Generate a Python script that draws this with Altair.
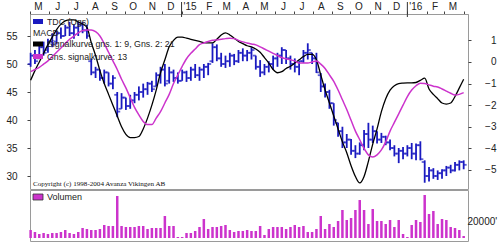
import altair as alt
import pandas as pd

# ---------------- data ----------------
first_week = "2014-05-02"   # weekly bars, one per week

low = [49.5, 50.0, 51.0, 51.5, 52.0, 53.0, 53.5, 54.5, 55.0, 55.0,
       54.5, 55.0, 55.5, 54.5, 48.0, 47.5, 47.0, 46.5, 46.0, 45.5,
       40.5, 42.0, 41.8, 42.0, 43.0, 43.5, 44.0, 44.5, 45.0, 46.0,
       46.5, 46.0, 46.5, 46.8, 46.5, 47.0, 46.8, 47.0, 47.5, 47.0,
       47.5, 48.0, 50.2, 50.5, 49.5, 49.3, 49.5, 49.8, 50.2, 50.5,
       50.5, 50.8, 49.0, 47.7, 48.0, 48.5, 49.0, 49.5, 50.0, 50.0,
       49.0, 48.5, 48.0, 50.2, 50.8, 50.0, 48.4, 45.0, 44.0, 42.0,
       39.0, 37.0, 35.0, 35.0, 33.8, 33.2, 33.8, 34.6, 35.0, 35.9,
       35.8, 35.9, 35.5, 34.6, 33.5, 32.3, 33.0, 33.5, 33.0, 32.8,
       32.8, 28.8, 29.0, 29.5, 29.3, 29.5, 30.0, 30.5, 30.8, 31.0,
       31.2]
high = [52.0, 52.5, 53.5, 54.0, 54.5, 55.5, 56.0, 56.5, 57.0, 57.5,
        57.0, 57.6, 57.5, 57.0, 51.0, 49.5, 49.0, 49.0, 48.5, 48.0,
        45.0, 44.8, 44.0, 44.5, 45.0, 46.0, 46.5, 46.8, 47.0, 48.5,
        49.5, 50.0, 49.5, 49.0, 48.5, 49.0, 48.8, 49.5, 50.0, 49.5,
        50.0, 50.2, 53.7, 53.5, 52.0, 51.5, 52.0, 51.8, 52.5, 52.8,
        52.5, 53.0, 51.5, 50.7, 50.0, 50.5, 51.5, 52.0, 53.0, 52.5,
        51.5, 51.0, 50.5, 52.5, 53.7, 52.0, 52.0, 48.4, 46.5, 45.4,
        43.0, 39.5, 38.8, 37.5, 36.6, 35.5, 36.0, 38.2, 39.5, 39.0,
        38.0, 37.7, 37.2, 36.5, 35.5, 35.0, 35.2, 35.5, 35.9, 35.8,
        36.2, 32.8, 31.6, 31.4, 31.0, 31.2, 31.8, 32.0, 32.5, 32.8,
        32.8]
open_ = [50.0, 51.5, 51.0, 53.0, 52.5, 54.0, 54.0, 55.5, 55.0, 56.5,
         55.5, 56.5, 57.0, 56.0, 50.5, 48.5, 49.0, 47.5, 48.5, 46.5,
         44.5, 42.0, 44.0, 42.5, 43.5, 44.5, 45.0, 45.5, 46.5, 46.0,
         48.0, 49.0, 47.0, 48.5, 47.5, 47.0, 48.5, 47.5, 49.0, 48.0,
         49.0, 49.5, 50.5, 53.0, 51.0, 50.0, 50.5, 51.5, 50.5, 52.0,
         51.5, 52.0, 51.5, 49.5, 48.5, 49.5, 50.0, 51.0, 51.5, 52.5,
         51.0, 50.0, 49.5, 50.5, 52.0, 52.0, 51.0, 48.0, 46.0, 45.0,
         43.0, 39.5, 38.0, 36.0, 36.5, 34.5, 34.0, 35.5, 37.5, 36.5,
         38.0, 36.5, 37.0, 36.0, 35.0, 34.0, 34.5, 34.0, 35.0, 34.0,
         35.5, 32.5, 30.0, 31.0, 30.0, 30.5, 31.0, 31.5, 31.0, 32.0,
         32.5]
close = [51.5, 50.5, 53.0, 52.0, 54.0, 53.5, 55.5, 55.0, 56.5, 55.5,
         56.5, 57.0, 56.0, 55.0, 48.5, 49.0, 47.5, 48.5, 46.5, 47.5,
         41.5, 44.0, 42.5, 43.5, 44.5, 45.0, 45.5, 46.5, 45.5, 48.0,
         49.0, 46.5, 48.5, 47.5, 47.0, 48.5, 47.5, 49.0, 48.0, 49.0,
         49.5, 50.0, 53.0, 51.0, 50.0, 50.5, 51.5, 50.5, 52.0, 51.5,
         52.0, 52.5, 49.5, 48.5, 49.5, 50.0, 51.0, 51.5, 52.5, 51.0,
         50.0, 49.5, 50.5, 52.0, 52.5, 51.0, 48.5, 46.0, 45.0, 43.0,
         40.0, 38.0, 36.0, 36.5, 34.5, 34.0, 35.5, 37.5, 36.5, 38.0,
         36.5, 37.0, 36.0, 35.0, 34.0, 34.5, 34.0, 35.0, 34.0, 35.5,
         33.0, 30.0, 31.0, 30.0, 30.5, 31.0, 31.5, 31.0, 32.0, 32.5,
         32.0]
macd = [-0.85, -0.40, 0.00, 0.40, 0.80, 1.15, 1.50, 1.75, 1.90, 1.95,
        1.95, 1.85, 1.75, 1.60, 0.90, 0.30, -0.40, -1.00, -1.50, -2.00,
        -2.50, -3.00, -3.35, -3.50, -3.50, -3.45, -3.10, -2.60, -2.00, -1.30,
        -0.50, 0.10, 0.70, 1.00, 1.15, 1.15, 1.10, 1.05, 1.00, 0.95,
        0.90, 0.88, 0.88, 1.05, 1.25, 1.35, 1.25, 1.10, 0.95, 0.85,
        0.75, 0.70, 0.60, 0.45, 0.20, -0.05, -0.35, -0.50, -0.45, -0.30,
        -0.20, -0.05, 0.10, 0.25, 0.35, 0.35, 0.10, -0.60, -1.30, -1.90,
        -2.50, -3.10, -3.70, -4.20, -4.80, -5.30, -5.60, -5.30, -4.60, -3.80,
        -3.10, -2.30, -1.70, -1.30, -1.10, -1.00, -0.98, -0.97, -0.97, -0.95,
        -0.85, -0.75, -1.25, -1.50, -1.70, -1.90, -1.95, -1.90, -1.60, -1.20,
        -0.80]
signal = [-0.45, -0.35, -0.25, -0.10, 0.05, 0.25, 0.45, 0.65, 0.85, 1.05,
          1.20, 1.35, 1.45, 1.48, 1.48, 1.40, 1.20, 0.85, 0.45, 0.05,
          -0.35, -0.80, -1.20, -1.65, -2.10, -2.45, -2.75, -2.90, -2.90, -2.60,
          -2.30, -1.90, -1.50, -1.00, -0.60, -0.20, 0.15, 0.40, 0.60, 0.80,
          0.88, 0.95, 1.00, 1.02, 1.05, 1.08, 1.10, 1.08, 1.00, 0.93,
          0.88, 0.83, 0.79, 0.70, 0.60, 0.50, 0.40, 0.30, 0.20, 0.15,
          0.10, 0.05, -0.05, -0.05, -0.05, 0.00, 0.05, -0.10, -0.30, -0.60,
          -0.90, -1.30, -1.75, -2.20, -2.70, -3.20, -3.60, -4.00, -4.30, -4.40,
          -4.30, -4.07, -3.70, -3.20, -2.80, -2.40, -2.00, -1.60, -1.30, -1.10,
          -0.98, -1.00, -1.06, -1.12, -1.16, -1.25, -1.35, -1.45, -1.53, -1.50,
          -1.42]
volume = [13300, 10000, 6700, 8300, 6700, 8300, 8300, 10000, 13300, 8300,
          6700, 10000, 16700, 15000, 13300, 13300, 15000, 21700, 20000, 20000,
          70000, 20000, 18300, 18300, 18300, 20000, 20000, 15000, 16700, 16700,
          16700, 36700, 20000, 20000, 1700, 1700, 8300, 8300, 11700, 18300,
          31700, 15000, 18300, 18300, 20000, 21700, 13300, 10000, 11700, 11700,
          13300, 11700, 11700, 20000, 5000, 15000, 18300, 18300, 18300, 15000,
          18300, 21700, 18300, 20000, 10000, 10000, 15000, 36700, 15000, 23300,
          18300, 28300, 46700, 30000, 33300, 46700, 63300, 46700, 23300, 48300,
          28300, 28300, 23300, 30000, 18300, 30000, 6700, 1700, 21700, 30000,
          26700, 71700, 40000, 45000, 23300, 31700, 30000, 18300, 16700, 13300,
          3300]

year_starts = ["2015-01-01T00:00:00", "2016-01-01T00:00:00"]
legend_labels = ["TDC (Ugs)", "MACD", "Signalkurve gns. 1: 9, Gns. 2: 21", "Gns. signalkurve: 13"]
volume_label = "Volumen"
copyright_text = "Copyright (c) 1998-2004 Avanza Vikingen AB"
price_ticks = [30, 35, 40, 45, 50, 55]
macd_ticks = [-5, -4, -3, -2, -1, 0, 1]
volume_ticks = [20000]

n = len(low)
dates = pd.date_range(first_week, periods=n, freq="7D")
df = pd.DataFrame({
    "date": dates.strftime("%Y-%m-%dT00:00:00"),
    "low": low, "high": high, "open": open_, "close": close,
    "macd": macd, "signal": signal, "volume": volume,
})

# ---------------- styling ----------------
FONT = "Liberation Sans, Arial, sans-serif"
BLUE = "#1a1ac0"
MAGENTA = "#cc33cc"
W = 438
H_MAIN = 175
H_VOL = 51

x_scale = alt.Scale(domain=[alt.DateTime(year=2014, month=5, date=1),
                            alt.DateTime(year=2016, month=4, date=8)])
x_axis = alt.Axis(
    orient="top", title=None, grid=False,
    tickCount={"interval": "month", "step": 1},
    labelExpr=("month(datum.value) == 0 ? \"'\" + timeFormat(datum.value, '%y') : "
               "((year(datum.value) == 2016 && month(datum.value) == 3) ? '' : "
               "substring(timeFormat(datum.value, '%b'), 0, 1))"),
    labelOffset=8, labelAlign="center", labelOverlap=False, labelFlush=False,
    labelPadding=0, tickSize=3, tickColor="#444", domainColor="#9a9a9a",
    labelFont=FONT, labelFontSize=10, labelColor="#222",
)
X = alt.X("date:T", scale=x_scale, axis=x_axis)

price_scale = alt.Scale(domain=[27.68, 58.93], nice=False, zero=False)
price_axis = alt.Axis(orient="left", values=price_ticks, title=None, grid=False,
                      domain=False, tickSize=3, tickColor="#444", labelPadding=10,
                      labelFont=FONT, labelFontSize=10, labelColor="#222")
macd_scale = alt.Scale(domain=[-5.88, 2.22], nice=False, zero=False)
macd_axis = alt.Axis(orient="right", values=macd_ticks, title=None, grid=False,
                     domain=False, tickSize=3, tickColor="#444", labelAlign="right",
                     labelPadding=25, labelFont=FONT, labelFontSize=10, labelColor="#222")

base = alt.Chart(df)
price_hl = base.mark_rule(color=BLUE, strokeWidth=1.8).encode(
    x=X, y=alt.Y("low:Q", scale=price_scale, axis=price_axis), y2="high:Q")
price_open = base.mark_tick(color=BLUE, orient="horizontal", size=3, thickness=1.8,
                            xOffset=-1.5).encode(
    x=X, y=alt.Y("open:Q", scale=price_scale, axis=price_axis))
price_close = base.mark_tick(color=BLUE, orient="horizontal", size=3, thickness=1.8,
                             xOffset=1.5).encode(
    x=X, y=alt.Y("close:Q", scale=price_scale, axis=price_axis))
price_layer = alt.layer(price_hl, price_open, price_close)

macd_line = base.mark_line(color="black", strokeWidth=1.3, interpolate="monotone").encode(
    x=X, y=alt.Y("macd:Q", scale=macd_scale, axis=macd_axis))
signal_line = base.mark_line(color=MAGENTA, strokeWidth=1.5, interpolate="monotone").encode(
    x=X, y=alt.Y("signal:Q", scale=macd_scale, axis=macd_axis))
macd_layer = alt.layer(macd_line, signal_line)

year_rule = alt.Chart(pd.DataFrame({"date": year_starts})).mark_rule(
    color="#333", strokeWidth=1).encode(x=X, y=alt.value(-12), y2=alt.value(3))


def label(text, x, y, size=8.8, font=FONT, color="#222"):
    return alt.Chart(pd.DataFrame({"t": [text]})).mark_text(
        align="left", baseline="middle", font=font, fontSize=size, color=color
    ).encode(x=alt.value(x), y=alt.value(y), text="t:N")


def swatch(color, x, y, w=10, h=5, stroke=None):
    kw = dict(color=color)
    if stroke:
        kw.update(stroke=stroke, strokeWidth=0.8)
    return alt.Chart(pd.DataFrame({"c": [0]})).mark_rect(**kw).encode(
        x=alt.value(x), x2=alt.value(x + w), y=alt.value(y), y2=alt.value(y + h))


legend_layers = [
    swatch(BLUE, 3, 5),
    label(legend_labels[0], 17, 8),
    label(legend_labels[1], 3, 18.5),
    swatch("black", 3, 27.5),
    label(legend_labels[2], 17, 30),
    swatch(MAGENTA, 3, 40),
    label(legend_labels[3], 17, 42.5),
    label(copyright_text, 3, 170, size=7.1, font="Liberation Serif, serif", color="#111"),
]

main = alt.layer(price_layer, macd_layer, year_rule, *legend_layers).resolve_scale(
    y="independent").properties(width=W, height=H_MAIN)

vol_axis = alt.Axis(orient="right", values=volume_ticks, title=None, grid=False,
                    domain=False, ticks=False, labelPadding=-1, labelOffset=-5,
                    labelExpr="format(datum.value, 'd') + \"'\"",
                    labelFont=FONT, labelFontSize=10, labelColor="#222")
vol_bars = alt.Chart(df).mark_rule(color=MAGENTA, strokeWidth=2.5).encode(
    x=alt.X("date:T", scale=x_scale, axis=None),
    y=alt.Y("volume:Q", scale=alt.Scale(domain=[-5000, 80000], nice=False, zero=False),
            axis=vol_axis),
    y2=alt.datum(0),
)
vol = alt.layer(
    vol_bars,
    swatch(MAGENTA, 3, 4, h=6, stroke="#333"),
    label(volume_label, 17, 7, size=9),
).properties(width=W, height=H_VOL)

chart = alt.vconcat(main, vol, spacing=-2).properties(
    padding={"left": 5, "top": 0, "right": 0, "bottom": 0},
    background="white",
).configure_view(stroke="#9a9a9a")

chart.save("out.html", embed_options={"renderer": "svg", "actions": False})
